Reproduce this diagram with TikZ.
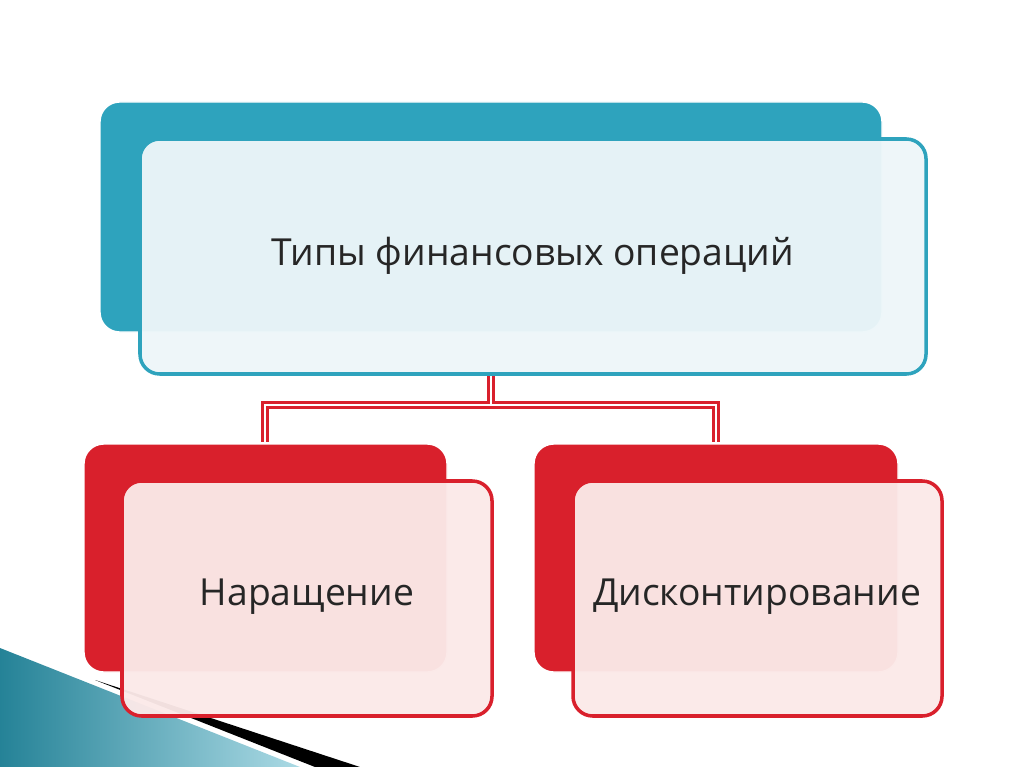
\documentclass[tikz,border=0pt]{standalone}
\usepackage{fontspec}
\setmainfont{Open Sans}
\usepackage{xcolor}
\usetikzlibrary{positioning}
\definecolor{teal1}{HTML}{2EA3BD}
\definecolor{paleblue}{HTML}{EDF6F9}
\definecolor{red1}{HTML}{D9202C}
\definecolor{palered}{HTML}{FBE9E8}

\begin{document}
\begin{tikzpicture}[
    x=0.025cm, y=-0.025cm,
    back/.style={draw=white, line width=1pt, rounded corners=14pt},
    front/.style={rounded corners=14pt, line width=2.5pt, text centered},
    label/.style={font=\fontsize{26.5}{30}\selectfont, text=black!85}
]
\useasboundingbox (0,0) rectangle (1024,767);
% bottom-left decoration
\shade[left color=teal1!80!black, right color=teal1!40] (0,648) -- (300,767) -- (0,767) -- cycle;
\fill[black] (95,680) -- (360,767) -- (315,767) -- cycle;

% top block
\fill[teal1, back] (100,102) rectangle (882,332);
\draw[teal1, fill=paleblue, fill opacity=0.96, front] (140,139) rectangle (926,374);
\node[label] (top) at (533,256) {Типы финансовых операций};

% left block
\fill[red1, back] (84,444) rectangle (447,672);
\draw[red1, fill=palered, fill opacity=0.96, front] (122,481) rectangle (492,716);
\node[label] (left) at (307,597) {Наращение};

% right block
\fill[red1, back] (534,444) rectangle (898,672);
\draw[red1, fill=palered, fill opacity=0.96, front] (573,481) rectangle (942,716);
\node[label] (right) at (757,597) {Дисконтирование};

% connector
\coordinate (tb) at (491,376);
\coordinate (lt) at (265,442);
\coordinate (rt) at (716,442);
\draw[red1, line width=6pt] (tb) -- (491,405) -| (lt);
\draw[red1, line width=6pt] (491,405) -| (rt);
\draw[white, line width=2pt] (tb) -- (491,405) -| (lt);
\draw[white, line width=2pt] (491,405) -| (rt);
\end{tikzpicture}
\end{document}
